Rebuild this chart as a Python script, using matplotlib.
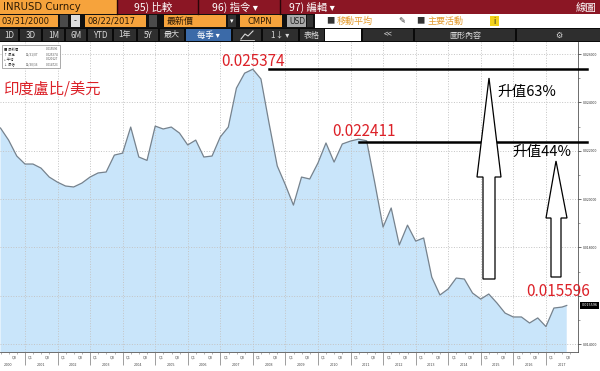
import numpy as np
import pandas as pd
import matplotlib
matplotlib.use('Agg')
import matplotlib.pyplot as plt
from matplotlib.patches import Rectangle, Polygon
from matplotlib.lines import Line2D
from matplotlib.transforms import Affine2D, blended_transform_factory

plt.rcParams['font.family'] = ['Noto Sans CJK TC', 'DejaVu Sans']

# 每季資料 (季末) + 最新一筆 08/22/2017
dates = list(pd.date_range('2000-03-31', '2017-06-30', freq='QE')) + [pd.Timestamp('2017-08-22')]
inr_usd = [
    0.02294, 0.02244, 0.02178, 0.02145,   # 2000
    0.02145, 0.02128, 0.02091, 0.02070,   # 2001
    0.02054, 0.02050, 0.02066, 0.02091,   # 2002
    0.02108, 0.02112, 0.02182, 0.02190,   # 2003
    0.02298, 0.02174, 0.02160, 0.02302,   # 2004
    0.02290, 0.02298, 0.02273, 0.02224,   # 2005
    0.02244, 0.02174, 0.02178, 0.02257,   # 2006
    0.02298, 0.02459, 0.02521, 0.025374,  # 2007
    0.02497, 0.02314, 0.02137, 0.02058,   # 2008
    0.01975, 0.02091, 0.02083, 0.02149,   # 2009
    0.02232, 0.02153, 0.02228, 0.02240,   # 2010
    0.02248, 0.022411, 0.02066, 0.01884,  # 2011
    0.01963, 0.01810, 0.01892, 0.01826,   # 2012
    0.01839, 0.01677, 0.01603, 0.01628,   # 2013
    0.01673, 0.01669, 0.01611, 0.01586,   # 2014
    0.01607, 0.01570, 0.01528, 0.01512,   # 2015
    0.01512, 0.01487, 0.01508, 0.014723,  # 2016
    0.01549, 0.01553, 0.015596,           # 2017
]
years = list(range(2000, 2018))
y_ticks = [0.014, 0.016, 0.018, 0.020, 0.022, 0.024, 0.026]
high_val, mid_val, last_val = 0.025374, 0.022411, 0.015596

# 轉成小數年份
t = np.array([d.year + (d.dayofyear - 1) / 365.25 for d in dates])

fig = plt.figure(figsize=(6, 3.71), dpi=100)
fig.patch.set_facecolor('white')
# 像素座標 (左上為原點)
P = Affine2D().scale(1 / 600, -1 / 371).translate(0, 1) + fig.transFigure


def box(x0, y0, x1, y1, color, ec='none', lw=0, z=1):
    fig.add_artist(Rectangle((x0, y0), x1 - x0, y1 - y0, transform=P,
                             facecolor=color, edgecolor=ec, lw=lw, zorder=z))


def label(x, y, s, size=7, color='white', ha='left', **kw):
    fig.text(x, y, s, transform=P, fontsize=size, color=color, ha=ha, va='center', **kw)


# ---- 主圖 ----
ax = fig.add_axes([0, (371 - 352) / 371, 578 / 600, (352 - 42) / 371])
ax.fill_between(t, inr_usd, 0.01, color='#c9e5fa', lw=0, zorder=1)
ax.plot(t, inr_usd, color='#76828d', lw=0.9, zorder=3)

ax.set_xlim(2000.232, 2017.984)
ax.set_ylim(0.01367, 0.0265)

ax.set_xticks(years[1:])
ax.set_xticklabels([])
ax.set_xticks([y + q for y in years for q in (0.25, 0.5, 0.75)], minor=True)
ax.tick_params(axis='x', which='major', length=9, width=0.5, color='#777777')
ax.tick_params(axis='x', which='minor', length=1.5, width=0.4, color='#777777')

ax.yaxis.tick_right()
ax.set_yticks(y_ticks)
# 0.016000 在原圖被紅字蓋住
ax.set_yticklabels(['' if abs(v - 0.016) < 1e-9 else '%.6f' % v for v in y_ticks])
ax.set_yticks([v + 0.001 for v in y_ticks[:-1]], minor=True)
ax.tick_params(axis='y', which='major', length=2, width=0.5, labelsize=2.6,
               pad=1.5, colors='#333333')
ax.tick_params(axis='y', which='minor', length=1.2, width=0.4, color='#555555')

ax.grid(True, which='major', color='#c4c4c4', linestyle=':', lw=0.7, zorder=2)
ax.set_axisbelow(False)
for s in ('left', 'top'):
    ax.spines[s].set_visible(False)
for s in ('right', 'bottom'):
    ax.spines[s].set_color('#555555')
    ax.spines[s].set_linewidth(0.6)

# 季度與年份標籤
bt = blended_transform_factory(ax.transData, ax.transAxes)
for y in years:
    for off, q in ((0.17, 'Q1'), (0.68, 'Q3')):
        if 2000.232 < y + off < 2017.984:
            ax.text(y + off, -0.012, q, transform=bt, fontsize=2.4, color='#444444',
                    ha='center', va='top', family='DejaVu Sans')
    ax.text(y + 0.48, -0.035, str(y), transform=bt, fontsize=2.4, color='#444444',
            ha='center', va='top', family='DejaVu Sans')

# 最新價黑色標籤
rt = blended_transform_factory(ax.transAxes, ax.transData)
ax.text(1.006, last_val, '%.6f' % last_val, transform=rt, fontsize=2.4, color='white',
        va='center', ha='left', family='DejaVu Sans', clip_on=False,
        bbox=dict(boxstyle='square,pad=0.4', fc='black', ec='none'))

# 高點水平線
ax.plot([2008.5, 2018.25], [high_val, high_val], color='black', lw=1.8,
        clip_on=False, zorder=5)
ax.plot([2011.25, 2018.25], [mid_val - 0.00004, mid_val - 0.00004], color='black',
        lw=1.8, clip_on=False, zorder=5)

# ---- 圖例框 ----
box(2, 45, 60, 68, 'white', ec='#888888', lw=0.5, z=5)
leg_rows = [('■ 最新價', '', '0.015596'), ('↑ 最高', '12/31/07', '0.025374'),
            ('+ 平均', '', '0.020127'), ('↓ 最低', '12/30/16', '0.014723')]
for i, (a, b, c) in enumerate(leg_rows):
    yy = 49.5 + i * 5
    label(4, yy, a, size=2.4, color='#333333', zorder=6)
    label(26, yy, b, size=2.2, color='#555555', zorder=6)
    label(58.5, yy, c, size=2.2, color='#555555', ha='right', zorder=6)

# ---- 註解 ----
red = '#dc2128'
label(3, 89, '印度盧比/美元', size=11, color=red)
label(221, 62, '%.6f' % high_val, size=11, color=red)
label(332, 131, '%.6f' % mid_val, size=11, color=red)
label(526, 292, '%.6f' % last_val, size=11, color=red)
label(497, 92, '升值63%', size=10.5, color='black')
label(512, 152, '升值44%', size=10.5, color='black')

arrow1 = [(483, 279), (483, 177), (477, 177), (489, 78), (501, 177), (495, 177), (495, 279)]
arrow2 = [(551, 277), (551, 218), (546, 218), (556, 161), (567, 218), (561, 218), (561, 277)]
for pts in (arrow1, arrow2):
    fig.add_artist(Polygon(pts, closed=True, transform=P, facecolor='white',
                           edgecolor='black', lw=0.9, zorder=6))

# ---- Bloomberg 標題列 ----
# 第一列
box(0, 0, 600, 14, '#8b1624')
box(0, 0, 117, 14, '#f6a33c')
for xx in (117, 198, 280):
    fig.add_artist(Line2D([xx, xx], [0, 14], transform=P, color='#2a0508', lw=1))
label(3, 7.5, 'INRUSD Curncy', size=7.3, color='#2b1a05', family='DejaVu Sans')
label(134, 7.5, '95) 比較', size=7.5)
label(212, 7.5, '96) 指令 ▾', size=7.5)
label(289, 7.5, '97) 編輯 ▾', size=7.5)
label(596, 7.5, '線圖', size=7.5, ha='right')

# 第二列
box(0, 14, 315, 28, '#111111')
box(315, 14, 600, 28, 'white')
box(0, 15, 58, 27, '#f6a33c')
label(1, 21, '03/31/2000', size=6, color='#2b1a05', family='DejaVu Sans')
box(60, 15, 68, 27, '#4a4a4a')
box(71, 15, 80, 27, '#dddddd')
label(75.5, 21, '-', size=6, color='#222222', ha='center')
box(85, 15, 146, 27, '#f6a33c')
label(87, 21, '08/22/2017', size=6, color='#2b1a05', family='DejaVu Sans')
box(149, 15, 157, 27, '#4a4a4a')
box(164, 15, 226, 27, '#f6a33c')
label(167, 21, '最新價', size=6.5, color='#2b1a05')
box(228, 15, 236, 27, '#333333')
label(232, 21, '▾', size=5, ha='center')
box(240, 15, 282, 27, '#f6a33c')
label(247, 21, 'CMPN', size=6, color='#2b1a05', family='DejaVu Sans')
box(287, 15, 306, 27, '#a8a8a8')
label(289, 21, 'USD', size=5.5, color='#222222', family='DejaVu Sans')
box(307, 15, 313, 27, '#333333')
label(326, 21, '■', size=6, color='#333333')
label(337, 21, '移動平均', size=6.5, color='#e39a2d')
label(398, 21, '✎', size=6, color='#333333', family='DejaVu Sans')
label(416, 21, '■', size=6, color='#333333')
label(427, 21, '主要活動', size=6.5, color='#e39a2d')
box(490, 16, 499, 26, '#f2d21b')
label(494.5, 21, 'i', size=5.5, color='#222222', ha='center', family='DejaVu Sans')

# 第三列
box(0, 28, 600, 42, '#0a0a0a')
buttons = [(0, 18, '1D'), (20, 41, '3D'), (43, 64, '1M'), (66, 86, '6M'),
           (88, 112, 'YTD'), (114, 136, '1年'), (138, 158, '5Y'), (160, 184, '最大'),
           (233, 261, ''), (263, 298, '1↓ ▾'), (300, 324, '表格'),
           (363, 413, '<<'), (415, 515, '圖形內容'), (517, 600, '⚙')]
for x0, x1, s in buttons:
    box(x0, 29, x1, 41, '#2e2e2e')
    if s:
        label((x0 + x1) / 2, 35, s, size=5.8, color='#d8d8d8', ha='center')
box(186, 29, 231, 41, '#3b6aa8')
label(208, 35, '每季 ▾', size=6, color='white', ha='center')
box(325, 29, 361, 41, 'white')
# 折線圖示
fig.add_artist(Line2D([241, 245, 248, 253], [39, 34, 36, 31], transform=P,
                      color='#d8d8d8', lw=0.8))
fig.add_artist(Line2D([240, 254], [39.5, 39.5], transform=P, color='#d8d8d8', lw=0.6))

fig.savefig('out.png', dpi=100)
